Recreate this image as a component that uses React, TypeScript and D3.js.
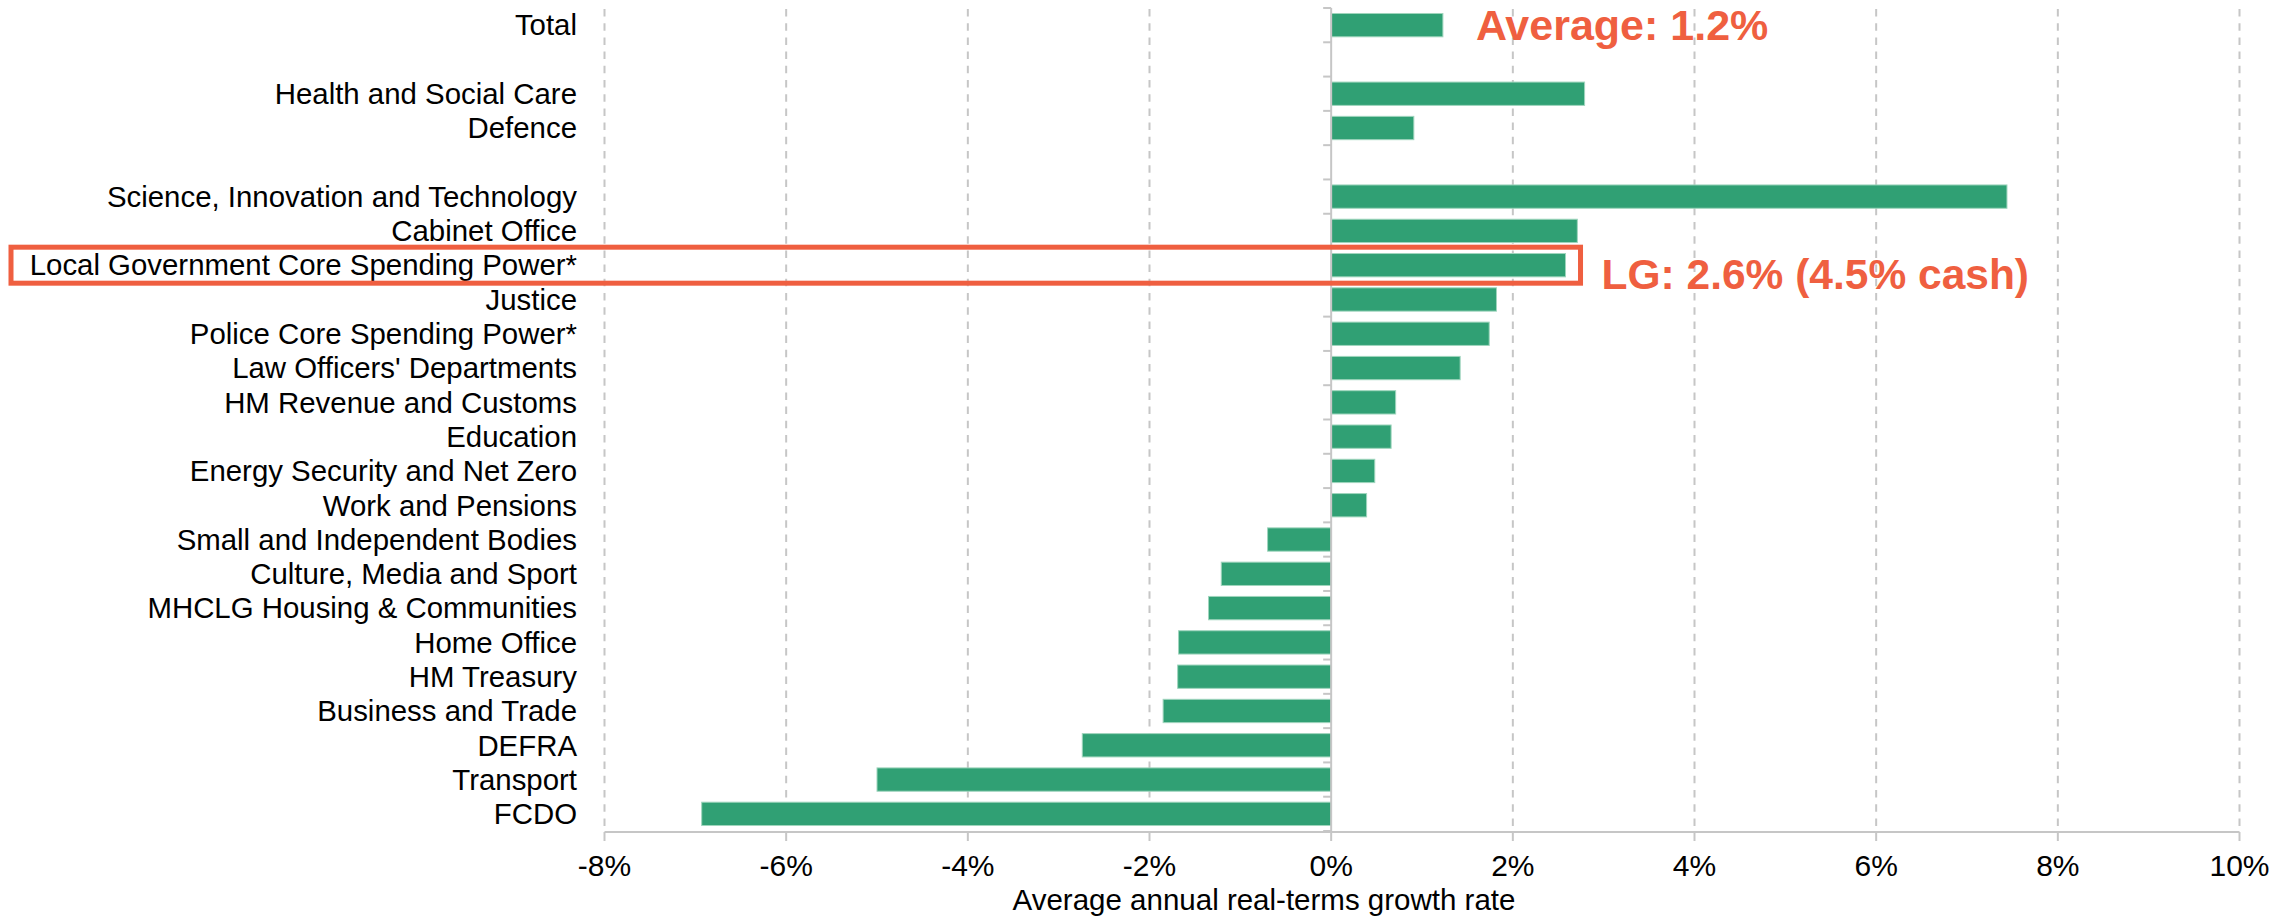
import React from "react";
import * as d3 from "d3";

const categories: string[] = [
  "Total",
  "",
  "Health and Social Care",
  "Defence",
  "",
  "Science, Innovation and Technology",
  "Cabinet Office",
  "Local Government Core Spending Power*",
  "Justice",
  "Police Core Spending Power*",
  "Law Officers' Departments",
  "HM Revenue and Customs",
  "Education",
  "Energy Security and Net Zero",
  "Work and Pensions",
  "Small and Independent Bodies",
  "Culture, Media and Sport",
  "MHCLG Housing & Communities",
  "Home Office",
  "HM Treasury",
  "Business and Trade",
  "DEFRA",
  "Transport",
  "FCDO",
];

const values: (number | null)[] = [
  1.23, null, 2.79, 0.91, null, 7.44, 2.71, 2.58, 1.82, 1.74, 1.42, 0.71, 0.66,
  0.48, 0.39, -0.7, -1.21, -1.35, -1.68, -1.69, -1.85, -2.74, -5.0, -6.93,
];

const xTicks: number[] = [-8, -6, -4, -2, 0, 2, 4, 6, 8, 10];
const xTitle = "Average annual real-terms growth rate";
const avgLabel = "Average: 1.2%";
const lgLabel = "LG: 2.6% (4.5% cash)";
const highlightIndex = 7;

const W = 2295;
const H = 917;
const FONT = "'Liberation Sans', Arial, Helvetica, sans-serif";
const BAR = "#30a074";
const ACCENT = "#ef5f40";
const GRID = "#c6c6c6";

export default function App() {
  const x = d3.scaleLinear().domain([-8, 10]).range([604.5, 2239.5]);
  const ids = categories.map((_, i) => String(i));
  const y = d3
    .scaleBand<string>()
    .domain(ids)
    .range([8, 831])
    .paddingInner(0.32)
    .paddingOuter(0.16);
  const step = y.step();
  const top = 8;
  const bottom = 831;
  const x0 = x(0);
  const boundaries = d3.range(categories.length + 1).map((i) => top + i * step);

  const rowCenter = (i: number) => (y(String(i)) as number) + y.bandwidth() / 2;
  const lgVal = values[highlightIndex] as number;
  const boxRight = x(lgVal) + 15;

  return (
    <svg
      width={W}
      height={H}
      style={{ position: "absolute", left: 0, top: 0, background: "#fff" }}
      fontFamily={FONT}
    >
      {/* gridlines */}
      {xTicks
        .filter((t) => t !== 0)
        .map((t) => (
          <line
            key={"g" + t}
            x1={x(t)}
            x2={x(t)}
            y1={top + 1}
            y2={bottom}
            stroke={GRID}
            strokeWidth={2}
            strokeDasharray="7.5,6.7"
          />
        ))}
      {/* bottom axis */}
      <line x1={x(-8)} x2={x(10)} y1={832} y2={832} stroke={GRID} strokeWidth={2} />
      {xTicks.map((t) => (
        <line key={"t" + t} x1={x(t)} x2={x(t)} y1={832} y2={841} stroke={GRID} strokeWidth={2} />
      ))}
      {xTicks.map((t) => (
        <text key={"l" + t} x={x(t)} y={876} textAnchor="middle" fontSize={30} fill="#000">
          {t + "%"}
        </text>
      ))}
      <text x={1264} y={910} textAnchor="middle" fontSize={29.5} fill="#000">
        {xTitle}
      </text>

      {/* bars */}
      {values.map((v, i) =>
        v === null ? null : (
          <rect
            key={"b" + i}
            x={Math.min(x(v), x0)}
            y={y(String(i))}
            width={Math.abs(x(v) - x0)}
            height={y.bandwidth()}
            fill={BAR}
            stroke="#9fd5bd"
            strokeWidth={1}
          />
        )
      )}

      {/* zero axis + category ticks */}
      <line x1={x0} x2={x0} y1={top} y2={bottom} stroke={GRID} strokeWidth={2} />
      {boundaries.map((b, i) => (
        <line key={"c" + i} x1={x0 - 8} x2={x0} y1={b} y2={b} stroke={GRID} strokeWidth={2} />
      ))}

      {/* category labels */}
      {categories.map((c, i) =>
        c ? (
          <text
            key={"cl" + i}
            x={577}
            y={rowCenter(i)}
            dy="0.35em"
            textAnchor="end"
            fontSize={29.4}
            fill="#000"
          >
            {c}
          </text>
        ) : null
      )}

      {/* highlight box */}
      <rect
        x={11}
        y={rowCenter(highlightIndex) - 18}
        width={boxRight - 11}
        height={36}
        fill="none"
        stroke={ACCENT}
        strokeWidth={5}
      />

      {/* annotations */}
      <text
        x={x(values[0] as number) + 33}
        y={rowCenter(0) + 15}
        fontSize={43}
        fontWeight="bold"
        fill={ACCENT}
      >
        {avgLabel}
      </text>
      <text
        x={boxRight + 21}
        y={rowCenter(highlightIndex) + 24}
        fontSize={42.5}
        fontWeight="bold"
        fill={ACCENT}
      >
        {lgLabel}
      </text>
    </svg>
  );
}
